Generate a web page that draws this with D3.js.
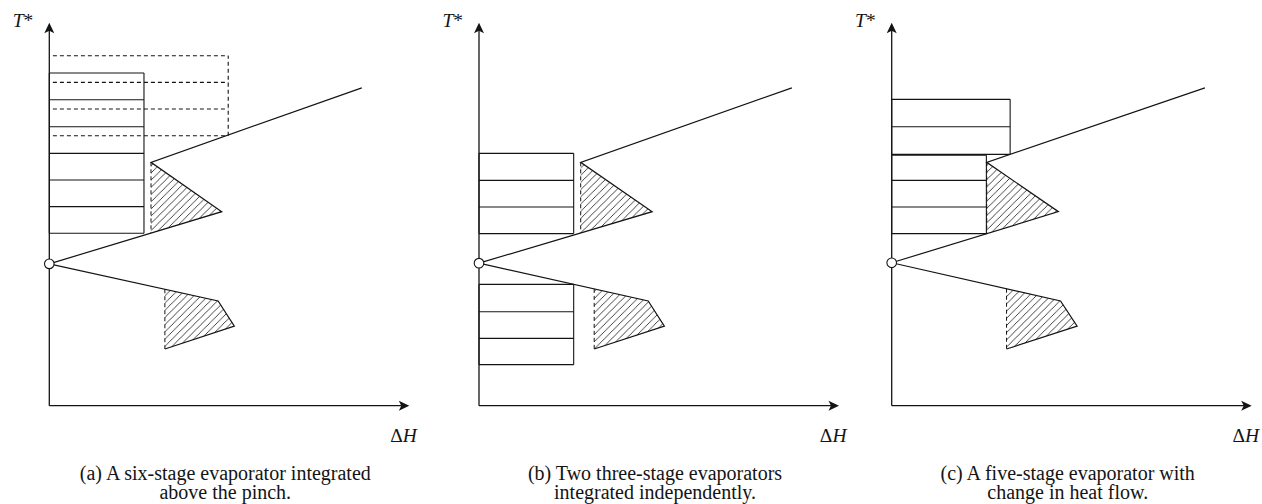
<!DOCTYPE html>
<html><head><meta charset="utf-8">
<script src="https://cdn.jsdelivr.net/npm/d3@7"></script>
<style>html,body{margin:0;padding:0;background:#fff;}svg{display:block;}</style>
</head><body>
<script>
// ---- data (ΔH and T* in arbitrary diagram units) ----
const panelIds = ["a", "b", "c"];
const captions = [
  ["(a) A six-stage evaporator integrated", "above the pinch."],
  ["(b) Two three-stage evaporators", "integrated independently."],
  ["(c) A five-stage evaporator with", "change in heat flow."]
];
const axisLabelY = "T*";
const axisLabelX = "ΔH";
const axisMax = {dh: 100, t: 106.4};
// grand composite curve above / below the pinch, per panel
const gccAboveA = [[0, 39.4], [47.9, 53.9], [28.25, 67.6], [86.8, 88.3]];
const gccBelowA = [[0, 39.4], [46.9, 29.1], [51.4, 22.1], [32.1, 15.75]];
const gccAboveB = [[0, 39.6], [48.1, 53.9], [28.25, 67.6], [86.9, 88.3]];
const gccBelowB = [[0, 39.6], [47.0, 29.1], [51.5, 22.1], [32.0, 15.75]];
const gccAboveC = [[0, 39.7], [46.3, 53.9], [26.4, 67.6], [87.0, 88.3]];
const gccBelowC = [[0, 39.7], [46.9, 29.1], [51.5, 22.1], [31.9, 15.75]];
// evaporator stage stacks: heat load (ΔH width) and stage temperature boundaries
const stacksA = [
  {width: 26.3, bounds: [47.9, 55.3, 62.7, 70.1, 77.5, 85.0, 92.4], dashed: false},
  {width: 49.7, bounds: [75.0, 82.4, 89.8, 97.2], dashed: true}
];
const stacksB = [
  {width: 26.3, bounds: [47.8, 55.2, 62.6, 70.1], dashed: false},
  {width: 26.3, bounds: [11.4, 18.7, 26.1, 33.7], dashed: false}
];
const stacksC = [
  {width: 26.3, bounds: [47.8, 55.2, 62.6, 69.6], dashed: false},
  {width: 32.9, bounds: [69.8, 77.5, 85.1], dashed: false}
];
const gccAbove = [gccAboveA, gccAboveB, gccAboveC];
const gccBelow = [gccBelowA, gccBelowB, gccBelowC];
const stacks = [stacksA, stacksB, stacksC];

// ---- layout ----
const W = 1262, H = 504;
const originsX = [49.3, 479, 891.7];
const baseY = 405.7, unit = 3.6;
const ink = "#141414";
const font = "'Liberation Serif', 'Times New Roman', serif";

const svg = d3.select("body").append("svg").attr("width", W).attr("height", H);
const defs = svg.append("defs");
const pat = defs.append("pattern").attr("id", "hatch").attr("patternUnits", "userSpaceOnUse")
  .attr("width", 7.2).attr("height", 7.2);
pat.append("path").attr("d", "M-1,1 l2,-2 M0,7.2 l7.2,-7.2 M6.2,8.2 l2,-2")
  .attr("stroke", ink).attr("stroke-width", 0.8);

function interpAt(p0, p1, dh) {
  const f = (dh - p0[0]) / (p1[0] - p0[0]);
  return p0[1] + f * (p1[1] - p0[1]);
}

panelIds.forEach((id, i) => {
  const ox = originsX[i];
  const x = d3.scaleLinear().domain([0, 100]).range([ox, ox + 100 * unit]);
  const y = d3.scaleLinear().domain([0, 100]).range([baseY, baseY - 100 * unit]);
  const g = svg.append("g");
  const line = d3.line().x(d => x(d[0])).y(d => y(d[1]));

  // pockets (hatched)
  const A = gccAbove[i], B = gccBelow[i];
  const upCut = interpAt(A[0], A[1], A[2][0]);
  const upPocket = [A[2], A[1], [A[2][0], upCut]];
  const loCut = interpAt(B[0], B[1], B[3][0]);
  const loPocket = [[B[3][0], loCut], B[1], B[2], B[3]];
  [upPocket, loPocket].forEach(p => {
    g.append("path").attr("d", line(p) + "Z").attr("fill", "url(#hatch)").attr("stroke", "none");
  });
  g.append("path").attr("d", line([A[2], [A[2][0], upCut]]))
    .attr("stroke", ink).attr("stroke-width", 1).attr("stroke-dasharray", "4,3").attr("fill", "none");
  g.append("path").attr("d", line([[B[3][0], loCut], B[3]]))
    .attr("stroke", ink).attr("stroke-width", 1).attr("stroke-dasharray", "4,3").attr("fill", "none");

  // stage stacks
  stacks[i].forEach(s => {
    const lo = s.bounds[0], hi = s.bounds[s.bounds.length - 1];
    const sg = g.append("g").attr("fill", "none").attr("stroke", ink)
      .attr("stroke-width", 1.1).attr("stroke-dasharray", s.dashed ? "4,3" : null);
    s.bounds.forEach(b => {
      sg.append("path").attr("d", line([[s.dashed ? 1 : 0, b], [s.width, b]]));
    });
    sg.append("path").attr("d", line([[s.width, lo], [s.width, hi]]));
    if (!s.dashed) sg.append("path").attr("d", line([[0, lo], [0, hi]]));
  });

  // grand composite curve
  g.append("path").attr("d", line(A)).attr("fill", "none").attr("stroke", ink).attr("stroke-width", 1.2);
  g.append("path").attr("d", line(B)).attr("fill", "none").attr("stroke", ink).attr("stroke-width", 1.2);

  // axes
  const x0 = x(0), y0 = y(0), yTop = y(axisMax.t), xEnd = x(axisMax.dh);
  g.append("path").attr("d", `M${x0},${y0}V${yTop + 6}M${x0},${y0}H${xEnd - 6}`)
    .attr("stroke", ink).attr("stroke-width", 1.3).attr("fill", "none");
  g.append("path").attr("d", `M${x0},${yTop} L${x0 + 5},${yTop + 10.5} L${x0},${yTop + 8} L${x0 - 5},${yTop + 10.5}Z`)
    .attr("fill", ink);
  g.append("path").attr("d", `M${xEnd},${y0} L${xEnd - 10.5},${y0 - 5} L${xEnd - 8},${y0} L${xEnd - 10.5},${y0 + 5}Z`)
    .attr("fill", ink);

  // pinch
  g.append("circle").attr("cx", x(A[0][0])).attr("cy", y(A[0][1])).attr("r", 4.8)
    .attr("fill", "#fff").attr("stroke", ink).attr("stroke-width", 1.1);

  // axis labels
  const tl = g.append("text").attr("x", x0 - 16).attr("y", 26.5).attr("text-anchor", "end")
    .attr("font-family", font).attr("font-size", 19.5).attr("fill", ink);
  tl.append("tspan").attr("font-style", "italic").text(axisLabelY[0]);
  tl.append("tspan").text(axisLabelY.slice(1));
  const xl = g.append("text").attr("x", ox + 367.5).attr("y", 442).attr("text-anchor", "end")
    .attr("font-family", font).attr("font-size", 19.5).attr("fill", ink);
  xl.append("tspan").text(axisLabelX[0]);
  xl.append("tspan").attr("font-style", "italic").text(axisLabelX.slice(1));

  // caption
  captions[i].forEach((txt, k) => {
    g.append("text").attr("x", ox + 176).attr("y", 479.5 + k * 19.8)
      .attr("text-anchor", "middle").attr("font-family", font)
      .attr("font-size", 20).attr("fill", ink).text(txt);
  });
});
</script>
</body></html>
